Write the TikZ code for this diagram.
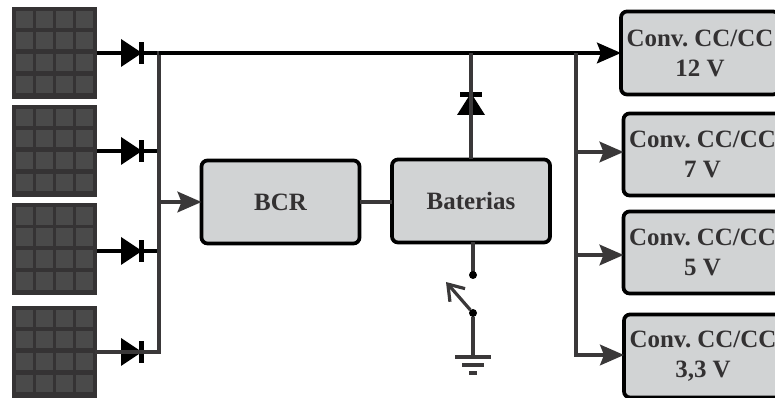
\documentclass[tikz,border=0pt]{standalone}
\usepackage{fontspec}
\setmainfont{Liberation Serif}
\usetikzlibrary{arrows.meta}
\definecolor{fillbox}{HTML}{D1D3D4}
\definecolor{ink}{HTML}{333132}
\definecolor{wirec}{HTML}{3A3839}
\definecolor{cellc}{HTML}{4A4A4A}
\definecolor{panelc}{HTML}{353334}
\frenchspacing
\tikzset{
  x=.75pt,y=-.75pt,
  box/.style={draw=black,fill=fillbox,line width=2.8pt,rounded corners=4.5pt,outer sep=0pt,
    minimum width=118.5pt,minimum height=62.25pt,inner sep=0pt,align=center,text=ink,
    font=\frenchspacing\fontsize{18.7}{22.5}\selectfont\bfseries},
  panel/.style={fill=panelc,draw=none,minimum width=63.75pt,minimum height=69pt,inner sep=0pt,outer sep=0pt},
  wire/.style={draw=wirec,line width=2.4pt},
  blackwire/.style={draw=black,line width=2.4pt},
  thickwire/.style={draw=black,line width=3pt},
  tip/.style={-{Stealth[length=18pt,width=15.5pt,inset=3pt]}},
  dot/.style={circle,fill=black,minimum size=6pt,inner sep=0pt,outer sep=0pt},
  gnd/.style={draw=wirec,line width=2.5pt},
}
\newcommand\panelcells[1]{%
  \begin{scope}[shift={(#1)}]
    \foreach \cx in {-38.5,-18.5,1.5,21.5}
      \foreach \cy in {-42,-21,1,23}
        \fill[cellc] (\cx,\cy) rectangle ++(17,17.5);
  \end{scope}}
\newcommand\diodeh[1]{%
  \begin{scope}[shift={(#1)}]
    \fill[black] (-20,-14) -- (1,0) -- (-20,14) -- cycle;
    \fill[black] (-2,-11) rectangle (3,11);
  \end{scope}}
\newcommand\diodev[1]{%
  \begin{scope}[shift={(#1)}]
    \fill[black] (-14,11) -- (0,-11) -- (14,11) -- cycle;
    \fill[black] (-11,-12) rectangle (11,-7);
  \end{scope}}
\begin{document}
\begin{tikzpicture}
\clip (0,0) rectangle (775,398);
% solar panels
\node[panel] (p1) at (54.5,53) {};
\node[panel] (p2) at (54.5,151) {};
\node[panel] (p3) at (54.5,249.5) {};
\node[panel] (p4) at (54.5,352) {};
\panelcells{p1}
\panelcells{p2}
\panelcells{p3}
\panelcells{p4}
% coordinates
\coordinate (d1) at (141,53);
\coordinate (d2) at (141,151);
\coordinate (d3) at (141,251);
\coordinate (d4) at (141,352);
\coordinate (j1) at (159,53);
\coordinate (j2) at (159,151);
\coordinate (j3) at (159,251);
\coordinate (j4) at (159,352);
\coordinate (jb) at (159,202);
\coordinate (r1) at (576,53);
\coordinate (r2) at (576,152);
\coordinate (r3) at (576,255);
\coordinate (r4) at (576,355);
\coordinate (du) at (471,104);
\coordinate (tb) at (471,53);
\coordinate (s1) at (473,275);
\coordinate (s2) at (473,313);
\coordinate (sa) at (446,282);
\coordinate (g1) at (473,357);
% boxes
\node[box] (bcr) at (280.5,202) {BCR};
\node[box] (bat) at (471,201) {Baterias};
\node[box] (c12) at (700,53) {Conv. CC/CC\\12 V};
\node[box,minimum height=61.5pt] (c7) at (702.5,154.5) {Conv. CC/CC\\7 V};
\node[box,minimum height=61.5pt] (c5) at (702.5,252.5) {Conv. CC/CC\\5 V};
\node[box] (c33) at (703,356) {Conv. CC/CC\\3,3 V};
% diodes
\diodeh{d1}
\diodeh{d2}
\diodeh{d3}
\diodeh{d4}
\diodev{du}
% connectors
\draw[blackwire] (p1.east |- d1) -- (d1) -- (j1);
\draw[thickwire] (p2.east |- d2) -- (d2) -- (j2);
\draw[thickwire] (p3.east |- d3) -- (d3) -- (j3);
\draw[wire,line cap=rect] (p4.east |- d4) -- (d4) -- (j4) -- (jb) -- (j3) -- (j2) -- (j1);
\draw[wire,tip] (jb) -- (bcr.west |- jb);
\draw[blackwire] (j1) -- (r1);
\draw[blackwire,tip] (r1) -- (c12.west);
\draw[wire] (bat.north) -- (du) -- (tb);
\draw[wire] (bcr.east) -- (bat.west |- bcr.east);
\draw[wire] (r1) -- (r2) -- (r3) -- (r4);
\draw[wire,tip] (r2) -- (c7.west |- r2);
\draw[wire,tip] (r3) -- (c5.west |- r3);
\draw[wire,line cap=rect] (r3) -- (r4);
\draw[wire,tip] (r4) -- (c33.west |- r4);
% switch
\draw[wire] (s1 |- bat.south) -- (s1);
\node[dot] (n1) at (s1) {};
\node[dot] (n2) at (s2) {};
\draw[wire,-{Straight Barb[length=11pt,width=15pt]}] (n2) -- (sa);
\draw[wire] (n2) -- (g1);
% ground
\draw[gnd] (455,357) -- (491,357);
\draw[gnd] (462,365) -- (484,365);
\draw[gnd] (469,373) -- (477,373);
\end{tikzpicture}
\end{document}
